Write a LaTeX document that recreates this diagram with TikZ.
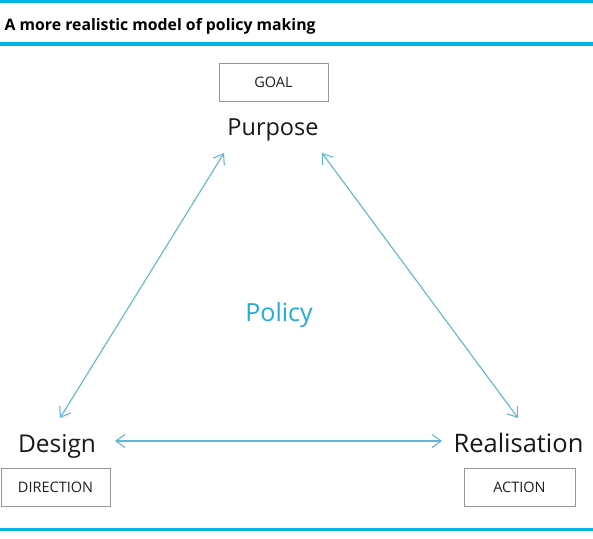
\documentclass[tikz,border=0pt]{standalone}
\usepackage{fontspec}
\setmainfont{Open Sans}
\usetikzlibrary{arrows.meta}
\definecolor{rulecyan}{RGB}{0,180,228}
\definecolor{arrowblue}{RGB}{95,182,212}
\definecolor{policyblue}{RGB}{35,170,215}
\definecolor{boxgray}{RGB}{150,150,150}
\definecolor{labelgray}{RGB}{30,30,30}
\tikzset{
  rulebar/.style={fill=rulecyan, draw=none},
  tagbox/.style={draw=boxgray, line width=0.9pt, minimum height=38pt, inner sep=0pt,
    font=\fontsize{14.5}{16}\selectfont, text=labelgray},
  stagelabel/.style={font=\fontsize{24.5}{28}\selectfont, text=black!90, inner sep=0pt, anchor=base},
  link/.style={draw=arrowblue, line width=1.1pt,
    {Straight Barb[length=9pt,width=13pt,line width=1.1pt]}-{Straight Barb[length=9pt,width=13pt,line width=1.1pt]}}
}
\begin{document}
\begin{tikzpicture}[x=1pt,y=-1pt]
\useasboundingbox (0,0) rectangle (593,538);
% rules
\fill[rulebar] (0,0) rectangle (593,3.2);
\fill[rulebar] (0,42.2) rectangle (593,45.6);
\fill[rulebar] (0,527.6) rectangle (593,531);
% title
\node[anchor=base west, inner sep=0pt, font=\bfseries\fontsize{15.8}{18}\selectfont] (title) at (4.5,30) {A more realistic model of policy making};
% boxes
\node[tagbox, minimum width=109pt] (goal) at (273.5,82) {GOAL};
\node[tagbox, minimum width=109pt] (direction) at (55.5,487.5) {DIRECTION};
\node[tagbox, minimum width=111pt] (action) at (519.5,487.5) {ACTION};
% stage labels
\node[stagelabel, font=\fontsize{23.5}{28}\selectfont] (purpose) at (273,135) {Purpose};
\node[stagelabel] (design) at (57,452.5) {Design};
\node[stagelabel, font=\fontsize{25.5}{28}\selectfont] (realisation) at (518.5,452.5) {Realisation};
\node[inner sep=0pt, anchor=base, font=\fontsize{25}{28}\selectfont, text=policyblue] (policy) at (279,321) {Policy};
% arrow endpoints
\coordinate (pA) at (224,153);
\coordinate (dA) at (60,418);
\coordinate (pB) at (322,153);
\coordinate (rB) at (518,418);
\coordinate (dC) at (115,441);
\coordinate (rC) at (442,441);
\draw[link] (dA) -- (pA);
\draw[link] (pB) -- (rB);
\draw[link] (dC) -- (rC);
\end{tikzpicture}
\end{document}
